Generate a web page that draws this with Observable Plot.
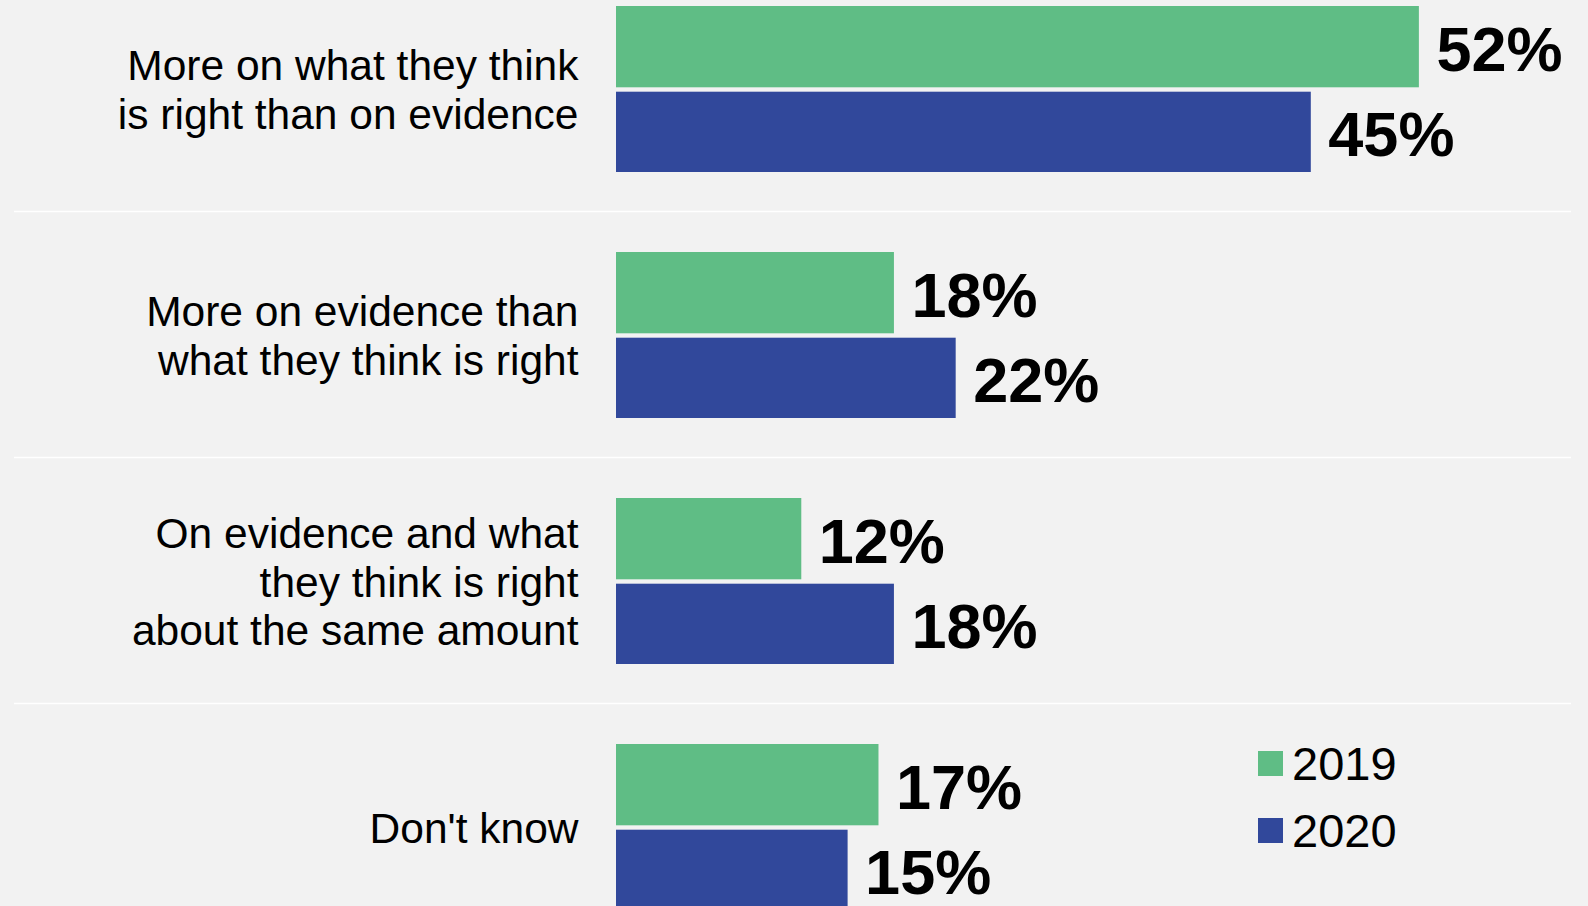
<!DOCTYPE html>
<html>
<head>
<meta charset="utf-8">
<script src="https://cdn.jsdelivr.net/npm/d3@7"></script>
<script src="https://cdn.jsdelivr.net/npm/@observablehq/plot@0.6"></script>
<style>
  html, body { margin: 0; padding: 0; background: #f2f2f2; }
  #chart { position: relative; width: 1588px; height: 906px; overflow: hidden; font-family: "Liberation Sans", Arial, sans-serif; }
  #chart svg { display: block; }
  #legend { position: absolute; left: 1258px; top: 730px; }
  .lg-swatches { margin: 0 !important; min-height: 0 !important; font-family: "Liberation Sans", Arial, sans-serif; }
  .lg-swatch { height: 67px; margin: 0 !important; padding: 0 !important; display: flex; align-items: center; }
  .lg-swatch > svg { margin-right: 9px !important; }
</style>
</head>
<body>
<div id="chart"><div id="legend"></div></div>
<script>
// ---- data ----
const categories = [
  "More on what they think\nis right than on evidence",
  "More on evidence than\nwhat they think is right",
  "On evidence and what\nthey think is right\nabout the same amount",
  "Don't know"
];
const years = ["2019", "2020"];
const values2019 = [52, 18, 12, 17];
const values2020 = [45, 22, 18, 15];
const colors = ["#5fbd85", "#31489b"];

const rows2019 = categories.map((c, i) => ({category: c, year: years[0], value: values2019[i]}));
const rows2020 = categories.map((c, i) => ({category: c, year: years[1], value: values2020[i]}));

const font = "'Liberation Sans', Arial, sans-serif";

const chart = Plot.plot({
  width: 1588,
  height: 906,
  marginLeft: 14,
  marginRight: 17,
  marginTop: 0,
  marginBottom: 0,
  style: {background: "#f2f2f2", fontFamily: font, color: "#000", overflow: "visible"},
  x: {domain: [0, 100], range: [616, 2160], axis: null},
  y: {domain: categories, range: [-35, 949], padding: 0, round: false, axis: null},
  color: {domain: years, range: colors},
  marks: [
    Plot.ruleY(categories.slice(0, 3), {y: d => d, dy: 123, stroke: "#ffffff", strokeWidth: 1.5}),
    Plot.barX(rows2019, {x: "value", y: "category", fill: "year", insetTop: 41, insetBottom: 123.7}),
    Plot.barX(rows2020, {x: "value", y: "category", fill: "year", insetTop: 126.7, insetBottom: 39}),
    Plot.text(rows2019, {x: "value", y: "category", text: d => d.value + "%", dx: 17, dy: -37.5,
      textAnchor: "start", lineAnchor: "middle", fontWeight: "bold", fontSize: 63, fill: "#000"}),
    Plot.text(rows2020, {x: "value", y: "category", text: d => d.value + "%", dx: 17, dy: 47.7,
      textAnchor: "start", lineAnchor: "middle", fontWeight: "bold", fontSize: 63, fill: "#000"}),
    Plot.text(categories, {x: () => 0, y: d => d, text: d => d, dx: -38, dy: 0.5,
      textAnchor: "end", lineAnchor: "middle", lineHeight: 48.8 / 42.5, fontSize: 42.5, fill: "#000"})
  ]
});
document.getElementById("chart").insertBefore(chart, document.getElementById("legend"));

const legend = Plot.legend({
  color: {domain: years, range: colors},
  legend: "swatches",
  columns: 1,
  swatchSize: 25,
  className: "lg",
  style: {fontSize: "47px", fontFamily: font, color: "#000", background: "transparent"}
});
document.getElementById("legend").appendChild(legend);
</script>
</body>
</html>
